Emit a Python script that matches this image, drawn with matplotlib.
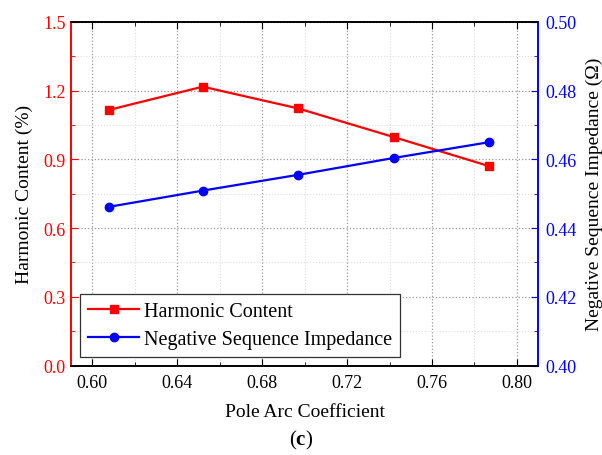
import numpy as np
import matplotlib
matplotlib.use("Agg")
import matplotlib.pyplot as plt
from matplotlib.ticker import MultipleLocator, FormatStrFormatter

# data
pole_arc = [0.608, 0.652, 0.697, 0.742, 0.787]
harmonic = [1.116, 1.217, 1.122, 0.997, 0.870]
impedance = [0.4462, 0.4509, 0.4555, 0.4604, 0.4650]

plt.rcParams['font.family'] = ['Liberation Serif', 'DejaVu Serif']
plt.rcParams['mathtext.fontset'] = 'custom'
plt.rcParams['mathtext.rm'] = 'Liberation Serif'
plt.rcParams['mathtext.bf'] = 'Liberation Serif:bold'

red = '#ff0000'
blue = '#0000ff'

fig = plt.figure(figsize=(6.02, 4.56), dpi=100)
ax = fig.add_axes([0.118, 0.196, 0.776, 0.754])
ax2 = ax.twinx()

l1, = ax.plot(pole_arc, harmonic, '-s', color=red, lw=1.6, ms=5.5, label='Harmonic Content')
l2, = ax2.plot(pole_arc, impedance, '-o', color=blue, lw=1.6, ms=6, label='Negative Sequence Impedance')

ax.set_xlim(0.59, 0.81)
ax.set_ylim(0.0, 1.5)
ax2.set_ylim(0.40, 0.50)

ax.xaxis.set_major_locator(MultipleLocator(0.04))
ax.xaxis.set_minor_locator(MultipleLocator(0.02))
ax.yaxis.set_major_locator(MultipleLocator(0.3))
ax.yaxis.set_minor_locator(MultipleLocator(0.15))
ax2.yaxis.set_major_locator(MultipleLocator(0.02))
ax2.yaxis.set_minor_locator(MultipleLocator(0.01))
ax.xaxis.set_major_formatter(FormatStrFormatter('%.2f'))
ax.yaxis.set_major_formatter(FormatStrFormatter('%.1f'))
ax2.yaxis.set_major_formatter(FormatStrFormatter('%.2f'))

ax.grid(which='major', ls=':', color='#999999', lw=0.9)
ax.grid(which='minor', ls=':', color='#dddddd', lw=0.8)

ax.tick_params(axis='x', which='both', direction='in', top=True, labelsize=13, colors='black')
ax.tick_params(axis='x', which='major', length=5, pad=6)
ax.tick_params(axis='x', which='minor', length=3)
ax.tick_params(axis='y', which='both', direction='in', colors=red, labelsize=13)
ax.tick_params(axis='y', which='major', length=5, pad=4)
ax.tick_params(axis='y', which='minor', length=3)
ax2.tick_params(axis='y', which='both', direction='in', colors=blue, labelsize=13)
ax2.tick_params(axis='y', which='major', length=5, pad=5)
ax2.tick_params(axis='y', which='minor', length=3)

for a in (ax, ax2):
    a.spines['left'].set_color(red)
    a.spines['right'].set_color(blue)
    a.spines['top'].set_color('black')
    a.spines['bottom'].set_color('black')
    for s in a.spines.values():
        s.set_linewidth(1.2)

ax.set_xlabel('Pole Arc Coefficient', fontsize=14, labelpad=9)
ax.set_ylabel('Harmonic Content (%)', fontsize=14, labelpad=7)
ax2.set_ylabel('Negative Sequence Impedance (Ω)', fontsize=14, labelpad=7)

leg = ax.legend(handles=[l1, l2], loc='lower left', bbox_to_anchor=(0.02, 0.025),
                fontsize=14.5, fancybox=False, edgecolor='#333333', framealpha=1,
                handlelength=2.5, borderpad=0.4, labelspacing=0.45, handletextpad=0.25,
                borderaxespad=0.0)
leg.get_frame().set_linewidth(0.9)

fig.text(0.5, 0.035, r'($\mathbf{c}$)', ha='center', va='center', fontsize=15)

fig.savefig('out.png', dpi=100)
